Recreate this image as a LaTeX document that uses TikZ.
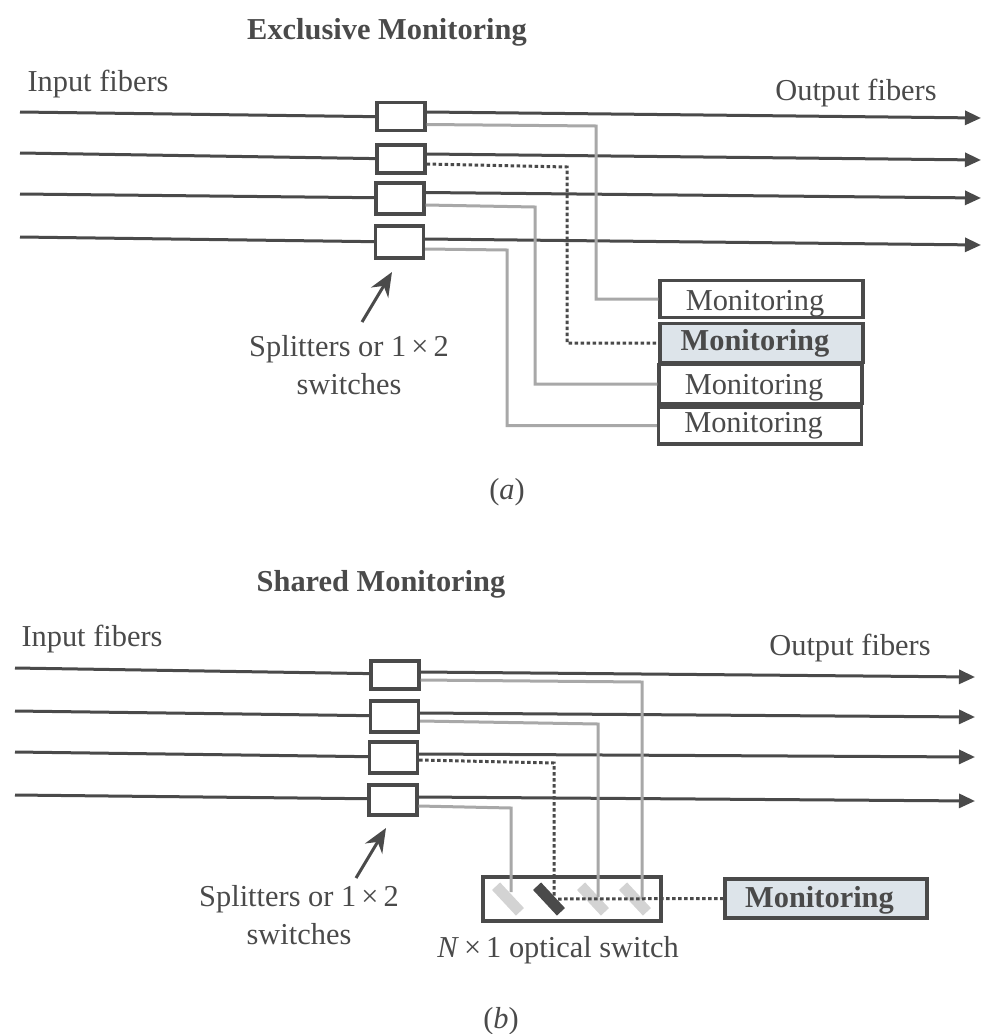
\documentclass[tikz,border=0pt]{standalone}
\usepackage{fontspec}
\setmainfont{Liberation Serif}
\usepackage{xcolor}
\usetikzlibrary{arrows.meta,positioning}
\definecolor{inkgray}{HTML}{4A4A4A}
\definecolor{tapgray}{HTML}{A8A8A8}
\definecolor{monfill}{HTML}{DDE4EA}
\newcommand{\montext}[1]{\hspace*{-13pt}\raisebox{-#1pt}[0pt][0pt]{Monitoring}}

\begin{document}
\begin{tikzpicture}[
  x=1pt, y=-1pt,
  fiber/.style={draw=inkgray, line width=3pt},
  fiberout/.style={fiber, -{Triangle[length=16pt,width=14pt]}},
  tap/.style={draw=tapgray, line width=3pt},
  seltap/.style={draw=inkgray, line width=3pt, dash pattern=on 3.6pt off 2.4pt},
  splitter/.style={rectangle, draw=inkgray, fill=white, line width=3.2pt, minimum width=48pt, inner sep=0pt},
  monitor/.style={rectangle, draw=inkgray, fill=white, line width=3.2pt, minimum width=203pt, inner sep=0pt, text=inkgray},
  selmonitor/.style={monitor, fill=monfill, font=\fontsize{30.4}{34}\selectfont\bfseries},
  mirror/.style={rectangle, fill=#1, minimum width=35pt, minimum height=11pt, inner sep=0pt, rotate=-47},
  label/.style={text=inkgray, align=center, inner sep=0pt},
  pointer/.style={draw=inkgray, line width=3pt, -{Stealth[length=24pt,width=20pt]}},
  font=\fontsize{30.4}{38}\selectfont
]
  \useasboundingbox (0,0) rectangle (983,1034);

  % Exclusive monitoring
  \node[label, font=\fontsize{30.4}{34}\selectfont\bfseries] (titlea) at (387,32) {Exclusive Monitoring};
  \node[label] (inputa) at (98,84) {Input fibers};
  \node[label] (outputa) at (856,93) {Output fibers};

  \coordinate (ina1) at (20,112);
  \coordinate (ina2) at (20,153);
  \coordinate (ina3) at (20,194);
  \coordinate (ina4) at (20,237);
  \coordinate (outa1) at (981,118);
  \coordinate (outa2) at (981,160);
  \coordinate (outa3) at (981,198);
  \coordinate (outa4) at (981,245);

  \draw[fiber] (ina1) -- (401,117);
  \draw[fiber] (ina2) -- (401,159);
  \draw[fiber] (ina3) -- (400,198);
  \draw[fiber] (ina4) -- (399,242);

  \node[splitter, minimum height=28pt] (sa1) at (401,116.5) {};
  \node[splitter, minimum height=28pt] (sa2) at (401,159) {};
  \node[splitter, minimum height=31pt] (sa3) at (400,198.5) {};
  \node[splitter, minimum height=32pt] (sa4) at (399.5,242) {};

  \draw[fiberout] ([yshift=4.5pt]sa1.east) -- (outa1);
  \draw[fiberout] ([yshift=5pt]sa2.east) -- (outa2);
  \draw[fiberout] ([yshift=6pt]sa3.east) -- (outa3);
  \draw[fiberout] ([yshift=3pt]sa4.east) -- (outa4);

  \node[monitor, minimum height=37pt] (ma1) at (761.5,299) {\montext{11}};
  \node[monitor, minimum height=39pt] (ma3) at (760.5,384) {\montext{10}};
  \node[monitor, minimum height=37pt] (ma4) at (760,425.5) {\montext{7}};
  \node[selmonitor, minimum height=39pt] (ma2) at (761.5,343) {\montext{7}};

  \draw[tap] ([yshift=-8pt]sa1.east) -- (596,126) |- (ma1.west);
  \draw[seltap] ([yshift=-5pt]sa2.east) -- (567,167) |- (ma2.west);
  \draw[tap] ([yshift=-6.5pt]sa3.east) -- (535,207) |- (ma3.west);
  \draw[tap] ([yshift=-7pt]sa4.east) -- (507,250) |- (ma4.west);

  \node[label] (splitlabela) at (349,365) {Splitters or 1\,×\,2\\switches};
  \coordinate (tipa) at (392,272);
  \draw[pointer] (362,322) -- (tipa);
  \node[label] (capa) at (507,492) {(\textit{a})};

  % Shared monitoring
  \node[label, font=\fontsize{30.4}{34}\selectfont\bfseries] (titleb) at (381,584) {Shared Monitoring};
  \node[label] (inputb) at (92,639) {Input fibers};
  \node[label] (outputb) at (850,648) {Output fibers};

  \coordinate (inb1) at (15,668);
  \coordinate (inb2) at (15,711);
  \coordinate (inb3) at (15,752);
  \coordinate (inb4) at (15,795);
  \coordinate (outb1) at (975,677);
  \coordinate (outb2) at (975,717);
  \coordinate (outb3) at (975,757);
  \coordinate (outb4) at (975,801);

  \draw[fiber] (inb1) -- (395,674);
  \draw[fiber] (inb2) -- (395,716);
  \draw[fiber] (inb3) -- (393,757);
  \draw[fiber] (inb4) -- (393,799);

  \node[splitter, minimum height=28pt] (sb1) at (395,675) {};
  \node[splitter, minimum height=31pt] (sb2) at (394.5,716.5) {};
  \node[splitter, minimum height=31pt] (sb3) at (393.5,757.5) {};
  \node[splitter, minimum height=30pt] (sb4) at (393,800) {};

  \draw[fiberout] ([yshift=3pt]sb1.east) -- (outb1);
  \draw[fiberout] ([yshift=3.5pt]sb2.east) -- (outb2);
  \draw[fiberout] ([yshift=3.5pt]sb3.east) -- (outb3);
  \draw[fiberout] ([yshift=3pt]sb4.east) -- (outb4);

  \node[rectangle, draw=inkgray, fill=white, line width=3.2pt, minimum width=178pt, minimum height=44pt, inner sep=0pt] (nsw) at (572,899) {};
  \node[mirror=tapgray!50] (mir1) at (508,899) {};
  \node[mirror=inkgray] (mir2) at (549,899) {};
  \node[mirror=tapgray!50] (mir3) at (593,899) {};
  \node[mirror=tapgray!50] (mir4) at (635,899) {};
  \node[selmonitor, minimum width=202pt, minimum height=39pt] (mb) at (826,898.5) {\montext{8.5}};

  \draw[tap] ([yshift=-5pt]sb1.east) -- (642,682) -- (642,899);
  \draw[tap] ([yshift=-4.5pt]sb2.east) -- (598,724) -- (598,897);
  \draw[seltap] ([yshift=-2.5pt]sb3.east) -- (554,763) -- (554,897);
  \draw[tap] ([yshift=-6pt]sb4.east) -- (511,808) -- (511,892);
  \draw[seltap] (mir2.center) ++(9,0) -- (mb.west);

  \node[label] (splitlabelb) at (299,915) {Splitters or 1\,×\,2\\switches};
  \coordinate (tipb) at (386,828);
  \draw[pointer] (356,878) -- (tipb);
  \node[label] (nswlabel) at (558,950) {\textit{N}\,×\,1 optical switch};
  \node[label] (capb) at (501,1021) {(\textit{b})};
\end{tikzpicture}
\end{document}
